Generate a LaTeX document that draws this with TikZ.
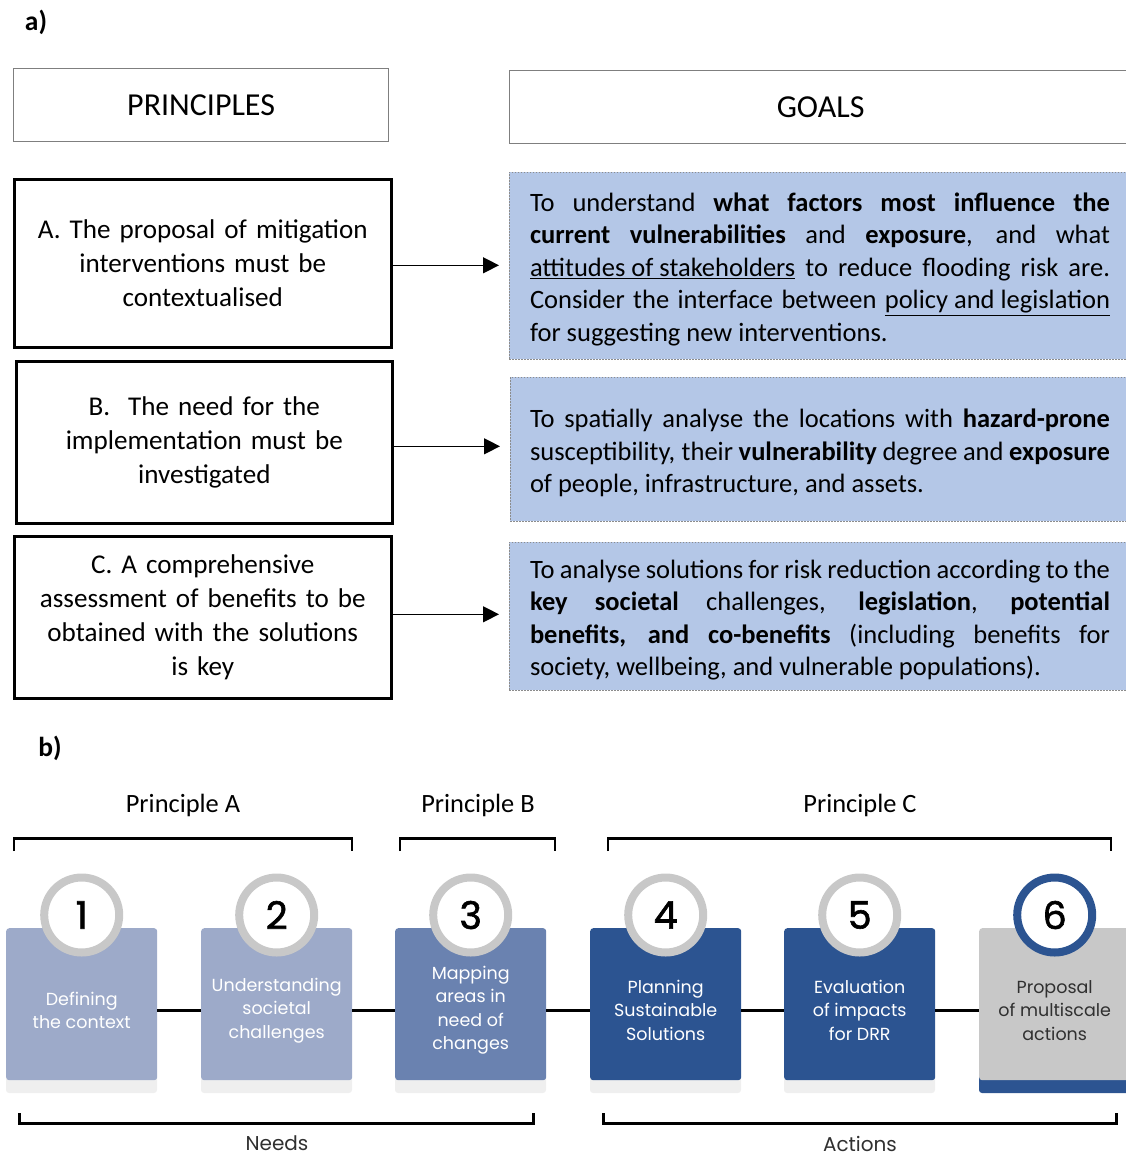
\documentclass[tikz,border=0pt]{standalone}
\usepackage{fontspec}
\setmainfont{Carlito}
\newfontfamily\stepfont{Poppins}
\newfontfamily\numfont{Poppins}[FakeBold=1.6]
\usetikzlibrary{arrows.meta,calc}

\definecolor{goalfill}{HTML}{B4C7E7}
\definecolor{framegray}{HTML}{7F7F7F}
\definecolor{dotgray}{HTML}{8C8C8C}
\definecolor{stepA}{HTML}{9DAAC9}
\definecolor{stepB}{HTML}{6A82B0}
\definecolor{stepC}{HTML}{2C5491}
\definecolor{stepD}{HTML}{C8C8C8}
\definecolor{ringgray}{HTML}{C8C8C8}
\definecolor{stripgray}{HTML}{EFEFEF}
\definecolor{labelgray}{HTML}{303030}

% justified line of the goal texts, a tightly spaced one, and a last line
\newcommand\jline[1]{\hbox to 580pt{\spaceskip=0.226em plus 1fil minus 0.05em\relax #1}}
\newcommand\tline[1]{\hbox to 580pt{\spaceskip=0.09em plus 1fil\relax #1}}
\newcommand\lline[1]{\hbox{\spaceskip=0.226em\relax #1}}

\tikzset{
  headbox/.style={draw=framegray, line width=1.2pt, inner sep=0pt, anchor=north west,
    font=\fontsize{32}{38}\selectfont},
  princbox/.style={draw=black, line width=2.6pt, inner sep=0pt, anchor=north west,
    text width=365pt, align=center, font=\fontsize{27.1}{34.3}\selectfont},
  goalbox/.style={fill=goalfill, draw=dotgray, line width=0.9pt, dash pattern=on 1.5pt off 1.5pt,
    inner sep=0pt, anchor=north west, minimum width=621pt},
  goaltext/.style={inner sep=0pt, text width=580pt, align=left,
    font=\fontsize{26.5}{32.5}\selectfont},
  linkarrow/.style={line width=1.4pt, -{Triangle[length=16pt,width=16pt]}, shorten >=10pt},
  bracket/.style={line width=2.6pt},
  steptile/.style={rounded corners=3pt, inner sep=0pt, anchor=north west,
    minimum width=151pt, minimum height=152pt},
  ring/.style={circle, line width=8pt, fill=white, inner sep=0pt, minimum size=75pt,
    font=\numfont\fontsize{38}{38}\selectfont},
  steptext/.style={align=center, font=\stepfont\fontsize{17.5}{23.5}\selectfont},
  grouplabel/.style={font=\fontsize{26.4}{30}\selectfont},
  phaselabel/.style={text=labelgray, inner sep=0pt, font=\stepfont\fontsize{20}{23}\selectfont},
  panel/.style={font=\bfseries\fontsize{27.5}{30}\selectfont}
}

\begin{document}
\begin{tikzpicture}[x=1pt,y=-1pt]
\useasboundingbox (0,0) rectangle (1126,1157);
\clip (0,0) rectangle (1126,1157);

% ---------- panel a ----------
\node[panel] (pa) at (36,22) {a)};

\node[headbox, minimum width=375pt, minimum height=73pt] (hp) at (13,68) {PRINCIPLES};
\node[headbox, minimum width=622pt, minimum height=73pt] (hg) at (509,70) {GOALS};

\node[princbox, minimum width=377pt, minimum height=168pt] (pA) at (13,178)
  {A. The proposal of mitigation\\ interventions must be\\ contextualised};
\node[princbox, minimum width=376pt, minimum height=162pt] (pB) at (15,360)
  {B.\ \ The need for the\\ implementation must be\\ investigated};
\node[princbox, minimum width=377pt, minimum height=162pt] (pC) at (13,535)
  {C. A comprehensive\\ assessment of benefits to be\\ obtained with the solutions\\ is key};

\node[goalbox, minimum height=187pt] (gA) at (509,172) {};
\node[goalbox, minimum height=144pt] (gB) at (510,377) {};
\node[goalbox, minimum height=148pt] (gC) at (509,542) {};

\node[goaltext] (tA) at ($(gA.west)+(311,3.5)$) {%
  \jline{To understand \textbf{what factors most influence the}}
  \jline{\textbf{current vulnerabilities} and \textbf{exposure}, and what}
  \jline{\underline{attitudes of stakeholders} to reduce flooding risk are.}
  \jline{Consider the interface between \underline{policy and legislation}}
  \lline{for suggesting new interventions.}};
\node[goaltext] (tB) at ($(gB.west)+(310,3.5)$) {%
  \jline{To spatially analyse the locations with \textbf{hazard-prone}}
  \tline{susceptibility, their \textbf{vulnerability} degree and \textbf{exposure}}
  \lline{of people, infrastructure, and assets.}};
\node[goaltext] (tC) at ($(gC.west)+(311,3.5)$) {%
  \tline{To analyse solutions for risk reduction according to the}
  \jline{\textbf{key societal} challenges, \textbf{legislation}, \textbf{potential}}
  \jline{\textbf{benefits, and co-benefits} (including benefits for}
  \lline{society, wellbeing, and vulnerable populations).}};

\draw[linkarrow] ($(pA.east)+(0,2)$) -- ($(pA.east -| gA.west)+(0,2)$);
\draw[linkarrow] ($(pB.east)+(0,4)$) -- ($(pB.east -| gB.west)+(0,4)$);
\draw[linkarrow] ($(pC.east)+(0,-3)$) -- ($(pC.east -| gC.west)+(0,-3)$);

% ---------- panel b ----------
\node[panel] (pb) at (50,748) {b)};

\node[grouplabel] (lA) at (183,805) {Principle A};
\node[grouplabel] (lB) at (478,805) {Principle B};
\node[grouplabel] (lC) at (860,805) {Principle C};
\draw[bracket] (14,851) -- (14,838.5) -- (352,838.5) -- (352,851);
\draw[bracket] (400,851) -- (400,838.5) -- (555,838.5) -- (555,851);
\draw[bracket] (608,851) -- (608,838.5) -- (1111,838.5) -- (1111,851);

% step tiles: index, x, tile colour, text colour, strip colour, ring colour, text
\foreach \i/\x/\fc/\tc/\sc/\rc/\txt in {
  1/6/stepA/white/stripgray/ringgray/{Defining\\the context},
  2/201/stepA/white/stripgray/ringgray/{Understanding\\societal\\challenges},
  3/395/stepB/white/stripgray/ringgray/{Mapping\\areas in\\need of\\changes},
  4/590/stepC/white/stripgray/ringgray/{Planning\\Sustainable\\Solutions},
  5/784/stepC/white/stripgray/ringgray/{Evaluation\\of impacts\\for DRR},
  6/979/stepD/labelgray/stepC/stepC/{Proposal\\of multiscale\\actions}}{
  \fill[\sc, rounded corners=3pt] (\x,1074) rectangle ++(151,19);
  \node[steptile, fill=\fc] (s\i) at (\x,928) {};
  \node[ring, draw=\rc] (c\i) at ($(s\i.north)+(0,-13)$) {\i};
  \node[steptext, text=\tc] (t\i) at ($(s\i.center)+(0,6)$) {\txt};
}
\foreach \a/\b in {1/2,2/3,3/4,4/5,5/6}
  \draw[line width=2.6pt] ($(s\a.east)+(0,6)$) -- ($(s\b.west)+(0,6)$);

\draw[bracket, line width=3pt] (19,1113) -- (19,1123) -- (533,1123) -- (533,1113);
\draw[bracket, line width=3pt] (603,1113) -- (603,1123) -- (1116,1123) -- (1116,1113);
\node[phaselabel] (nN) at (277,1143.5) {Needs};
\node[phaselabel] (nA) at (860,1143.5) {Actions};
\end{tikzpicture}
\end{document}
